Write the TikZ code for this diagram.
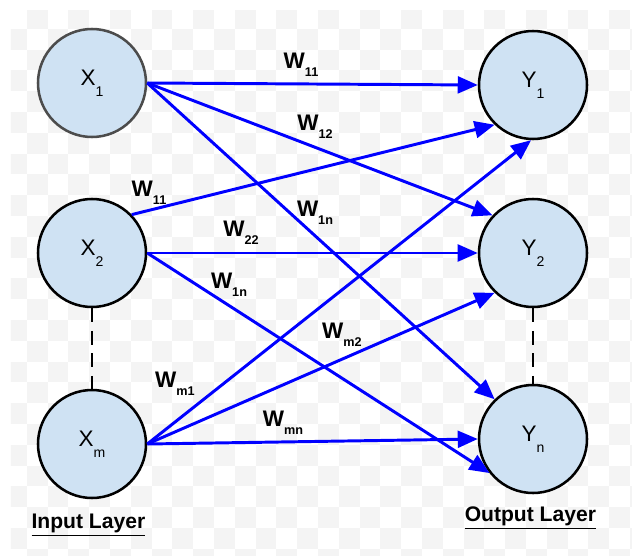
\documentclass[tikz,border=0pt]{standalone}
\usepackage{fontspec}
\setmainfont{Liberation Sans}
\usetikzlibrary{arrows.meta}

\definecolor{cellblue}{HTML}{CFE2F3}
\definecolor{linkblue}{HTML}{0000FF}
\definecolor{checkgray}{HTML}{F4F4F4}

% letter with a dropped index, as in X_1 and W_11
\newcommand{\unitname}[2]{#1\raisebox{-7.5pt}{\fontsize{10}{10}\selectfont #2}}
\newcommand{\wname}[1]{W\raisebox{-5.5pt}{\fontsize{9}{9}\selectfont #1}}

\begin{document}
\begin{tikzpicture}[
    neuron/.style={circle, draw=black, line width=1.8pt, fill=cellblue, minimum size=2.7cm,
                   inner sep=0pt, font=\fontsize{16}{16}\selectfont},
    link/.style={draw=linkblue, line width=2.1pt, -{Triangle[length=0.5cm,width=0.42cm]}},
    weight/.style={font=\bfseries\fontsize{16}{16}\selectfont, inner sep=0pt},
    layername/.style={font=\bfseries\fontsize{15}{15}\selectfont, inner sep=0pt}
]
    \useasboundingbox (0,0) rectangle (15.8,13.875);
    \fill [white] (0,0) rectangle (15.8,13.875);

    % checkered backdrop
    \begin{scope}
        \clip (0.275,0) rectangle (15.8,13.6);
        \foreach \i in {0,...,30} {
            \foreach \j in {0,...,26} {
                \pgfmathparse{int(mod(\i+\j,2))}
                \ifnum\pgfmathresult=1
                    \fill [checkgray] (0.15+0.52*\i, 13.675-0.52*\j) rectangle ++(0.52,-0.52);
                \fi
            }
        }
    \end{scope}

    % input units
    \node [neuron, draw=black!70] (x1) at (2.3, 11.8) {\unitname{X}{1}};
    \node [neuron] (x2) at (2.3, 7.55) {\unitname{X}{2}};
    \node [neuron] (xm) at (2.3, 2.775) {\unitname{X}{m}};

    % output units
    \node [neuron] (y1) at (13.325, 11.75) {\unitname{Y}{1}};
    \node [neuron] (y2) at (13.325, 7.55) {\unitname{Y}{2}};
    \node [neuron] (yn) at (13.325, 2.9) {\unitname{Y}{n}};

    \draw [line width=1.8pt, dash pattern=on 10pt off 6pt] (x2) -- (xm);
    \draw [line width=1.8pt, dash pattern=on 10pt off 6pt] (y2) -- (yn);

    % weighted links
    \draw [link] (x1.east) -- (y1.west);
    \draw [link] (x1.east) -- (y2.137);
    \draw [link] (x1.east) -- (yn.134);
    \draw [link] (x2.44) -- (y1.226);
    \draw [link] (x2.east) -- (y2.west);
    \draw [link] (x2.east) -- (yn.218);
    \draw [link] (xm.east) -- (y1.268);
    \draw [link] (xm.east) -- (y2.226);
    \draw [link] (xm.east) -- (yn.west);

    \node [weight] (w11) at (7.525, 12.25) {\wname{11}};
    \node [weight] (w12) at (7.875, 10.7) {\wname{12}};
    \node [weight] (w1n) at (7.875, 8.55) {\wname{1n}};
    \node [weight] (w21) at (3.725, 9.05) {\wname{11}};
    \node [weight] (w22) at (6.025, 8.05) {\wname{22}};
    \node [weight] (w2n) at (5.725, 6.75) {\wname{1n}};
    \node [weight] (wm2) at (8.55, 5.5) {\wname{m2}};
    \node [weight] (wm1) at (4.375, 4.275) {\wname{m1}};
    \node [weight] (wmn) at (7.075, 3.3) {\wname{mn}};

    \node [layername] (inlayer) at (2.21, 0.75) {\underline{Input Layer}};
    \node [layername] (outlayer) at (13.26, 0.925) {\underline{Output Layer}};
\end{tikzpicture}
\end{document}
